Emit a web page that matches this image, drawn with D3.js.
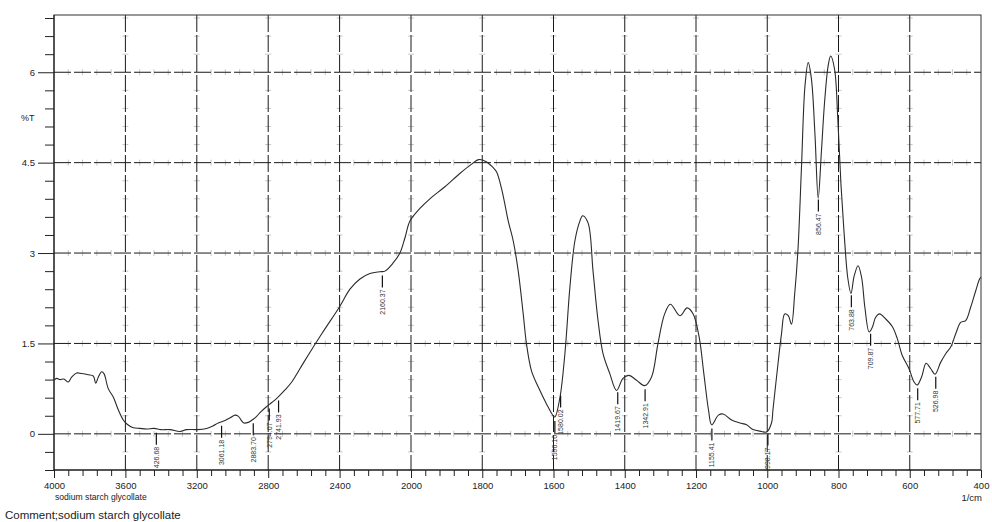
<!DOCTYPE html>
<html>
<head>
<meta charset="utf-8">
<script src="https://cdn.jsdelivr.net/npm/d3@7"></script>
<style>
body { margin: 0; background: #fff; }
svg { display: block; font-family: "Liberation Sans", Arial, sans-serif; }
.axis path { display: none; }
.axis line { stroke: #222; }
.axis text { fill: #222; font-size: 9.5px; }
</style>
</head>
<body>
<svg id="chart" width="992" height="522"></svg>
<script>
// spectrum (wavenumber 1/cm, %T)
var wavenumber = [4000, 3985, 3966, 3945, 3920, 3901, 3873, 3845, 3808, 3780, 3766, 3752, 3733, 3720, 3696, 3668, 3640, 3612, 3590, 3556, 3520, 3481, 3440, 3400, 3350, 3294, 3257, 3197, 3145, 3110, 3080, 3042, 3010, 2986, 2967, 2950, 2936, 2912, 2880, 2865, 2840, 2809, 2780, 2752, 2706, 2668, 2600, 2500, 2400, 2342, 2286, 2230, 2174, 2146, 2099, 2062, 2034, 2006, 1975, 1947, 1905, 1863, 1829, 1810, 1790, 1770, 1760, 1745, 1727, 1713, 1699, 1685, 1676, 1662, 1643, 1620, 1601, 1596, 1582, 1568, 1554, 1540, 1526, 1518, 1503, 1489, 1475, 1461, 1442, 1423, 1405, 1388, 1367, 1344, 1325, 1307, 1288, 1272, 1245, 1225, 1208, 1191, 1178, 1165, 1156, 1137, 1124, 1100, 1077, 1058, 1040, 1016, 1002, 988, 984, 974, 960, 951, 941, 932, 923, 914, 904, 894, 885, 876, 866, 857, 848, 839, 829, 822, 811, 802, 793, 784, 774, 765, 756, 745, 735, 726, 714, 705, 696, 685, 668, 649, 635, 621, 602, 588, 579, 567, 554, 541, 529, 513, 499, 485, 471, 457, 443, 429, 415, 404, 400];
var transmittance = [0.89, 0.92, 0.90, 0.91, 0.86, 0.94, 1.01, 1.00, 0.98, 0.96, 0.84, 0.94, 1.03, 1.00, 0.75, 0.61, 0.40, 0.23, 0.16, 0.10, 0.09, 0.08, 0.09, 0.07, 0.07, 0.04, 0.07, 0.07, 0.09, 0.13, 0.18, 0.22, 0.27, 0.31, 0.29, 0.22, 0.18, 0.19, 0.25, 0.29, 0.37, 0.45, 0.52, 0.59, 0.73, 0.86, 1.19, 1.66, 2.11, 2.40, 2.57, 2.66, 2.69, 2.70, 2.84, 3.00, 3.25, 3.53, 3.74, 3.90, 4.10, 4.32, 4.48, 4.55, 4.52, 4.42, 4.35, 4.05, 3.53, 3.20, 2.70, 1.99, 1.50, 1.05, 0.78, 0.50, 0.30, 0.28, 0.60, 1.33, 2.43, 3.20, 3.53, 3.62, 3.50, 2.70, 1.88, 1.33, 1.00, 0.72, 0.92, 0.97, 0.89, 0.80, 0.94, 1.49, 1.99, 2.15, 1.96, 2.09, 1.99, 1.60, 1.00, 0.40, 0.15, 0.31, 0.33, 0.23, 0.18, 0.15, 0.07, 0.04, 0.03, 0.18, 0.40, 0.94, 1.66, 1.99, 1.96, 1.82, 2.32, 3.03, 4.41, 5.78, 6.16, 5.89, 4.96, 3.91, 4.68, 5.51, 6.11, 6.27, 6.05, 5.23, 4.13, 3.31, 2.59, 2.33, 2.62, 2.79, 2.59, 2.10, 1.69, 1.77, 1.93, 1.99, 1.91, 1.78, 1.58, 1.30, 1.08, 0.86, 0.81, 0.94, 1.17, 1.08, 0.99, 1.19, 1.33, 1.44, 1.66, 1.85, 1.88, 2.10, 2.37, 2.57, 2.60];

// peak picks
var peakPositions = [3426.68, 3061.18, 2883.70, 2794.07, 2741.93, 2160.37, 1596.16, 1580.02, 1419.67, 1342.91, 1155.41, 998.17, 856.47, 763.88, 709.87, 577.71, 526.98];
var peakLabels = ["426.68", "3061.18", "2883.70", "2794.07", "2741.93", "2160.37", "1596.16", "1580.02", "1419.67", "1342.91", "1155.41", "998.17", "856.47", "763.88", "709.87", "577.71", "526.98"];

var xTicks = [4000, 3600, 3200, 2800, 2400, 2000, 1800, 1600, 1400, 1200, 1000, 800, 600, 400];
var yTicks = [0, 1.5, 3, 4.5, 6];

var svg = d3.select("#chart");
var plotLeft = 54, plotRight = 981, plotTop = 15, plotBottom = 470;

// the spectrometer squeezes 4000-2000 into half the scale of 2000-400
var x = d3.scaleLinear().domain([4000, 2000, 400]).range([plotLeft, 411, plotRight]);
var y = d3.scaleLinear().domain([-0.6, 6.95]).range([plotBottom, plotTop]);

// minor ticks: five steps between major ticks
var xMinor = [];
for (var i = 0; i < xTicks.length - 1; i++) {
    var step = (xTicks[i + 1] - xTicks[i]) / 5;
    for (var j = 1; j < 5; j++) xMinor.push(xTicks[i] + j * step);
}
var yMinor = d3.range(-0.6, 6.95, 0.3).map(function(v) { return Math.round(v * 10) / 10; })
    .filter(function(v) { return yTicks.indexOf(v) < 0; });

// faint minor marks along the grid
var marks = svg.append("g").attr("stroke", "#c8c8c8").attr("stroke-width", 1);
xTicks.slice(1, -1).forEach(function(t) {
    yMinor.forEach(function(v) {
        marks.append("line").attr("x1", x(t) - 3).attr("x2", x(t) + 3).attr("y1", y(v)).attr("y2", y(v));
    });
});
yTicks.forEach(function(v) {
    xMinor.forEach(function(t) {
        marks.append("line").attr("x1", x(t)).attr("x2", x(t)).attr("y1", y(v) - 3).attr("y2", y(v) + 3);
    });
});

// dashed grid
var grid = svg.append("g").attr("stroke", "#1a1a1a").attr("stroke-width", 1).attr("stroke-dasharray", "17,3");
xTicks.slice(1, -1).forEach(function(t) {
    grid.append("line").attr("x1", x(t)).attr("x2", x(t)).attr("y1", plotTop).attr("y2", plotBottom);
});
yTicks.forEach(function(v) {
    grid.append("line").attr("x1", plotLeft).attr("x2", plotRight).attr("y1", y(v)).attr("y2", y(v));
});

// frame
svg.append("rect").attr("x", plotLeft).attr("y", plotTop).attr("width", plotRight - plotLeft).attr("height", plotBottom - plotTop)
    .attr("fill", "none").attr("stroke", "#333").attr("stroke-width", 1);
svg.append("line").attr("x1", plotLeft).attr("x2", plotRight).attr("y1", plotBottom).attr("y2", plotBottom).attr("stroke", "#111");
svg.append("line").attr("x1", plotLeft).attr("x2", plotLeft).attr("y1", plotTop).attr("y2", plotBottom).attr("stroke", "#111");

// axes
svg.append("g").attr("class", "axis").attr("transform", "translate(0," + plotBottom + ")")
    .call(d3.axisBottom(x).tickValues(xTicks).tickSize(8).tickPadding(4).tickFormat(d3.format("d")));
svg.append("g").attr("class", "axis").attr("transform", "translate(0," + plotBottom + ")")
    .call(d3.axisBottom(x).tickValues(xMinor).tickSize(6).tickFormat(""));
svg.append("g").attr("class", "axis").attr("transform", "translate(" + plotLeft + ",0)")
    .call(d3.axisLeft(y).tickValues(yTicks).tickSize(16).tickPadding(3).tickFormat(function(d) { return String(d); }));
svg.append("g").attr("class", "axis").attr("transform", "translate(" + plotLeft + ",0)")
    .call(d3.axisLeft(y).tickValues(yMinor).tickSize(9).tickFormat(""));

// spectrum line
var pts = wavenumber.map(function(w, i) { return [w, transmittance[i]]; });
var line = d3.line()
    .x(function(d) { return x(d[0]); })
    .y(function(d) { return y(d[1]); })
    .curve(d3.curveCatmullRom.alpha(0.5));
svg.append("path").datum(pts).attr("d", line)
    .attr("fill", "none").attr("stroke", "#2b2b2b").attr("stroke-width", 1.1);

// value of the trace at a wavenumber
function valueAt(w) {
    for (var i = 0; i < wavenumber.length - 1; i++) {
        if (w <= wavenumber[i] && w >= wavenumber[i + 1]) {
            var f = (wavenumber[i] - w) / (wavenumber[i] - wavenumber[i + 1]);
            return transmittance[i] + f * (transmittance[i + 1] - transmittance[i]);
        }
    }
    return transmittance[transmittance.length - 1];
}

// peak labels: short stick under the trace, rotated number beneath it
var peaks = svg.append("g");
peakPositions.forEach(function(p, i) {
    var px = x(p);
    var y0 = y(valueAt(p)) + 4;
    peaks.append("line").attr("x1", px).attr("x2", px).attr("y1", y0).attr("y2", y0 + 12)
        .attr("stroke", "#111").attr("stroke-width", 1.2);
    peaks.append("text")
        .attr("transform", "translate(" + (px + 2.5) + "," + (y0 + 14) + ") rotate(-90)")
        .attr("text-anchor", "end")
        .attr("font-size", "7px")
        .attr("fill", "#333")
        .text(peakLabels[i]);
});

// texts
svg.append("text").attr("x", 21).attr("y", 121).attr("font-size", "9px").attr("fill", "#222").text("%T");
svg.append("text").attr("x", 55).attr("y", 500).attr("font-size", "8.6px").attr("fill", "#222").text("sodium starch glycollate");
svg.append("text").attr("x", 982).attr("y", 501).attr("text-anchor", "end").attr("font-size", "9.5px").attr("fill", "#222").text("1/cm");
svg.append("text").attr("x", 5).attr("y", 519).attr("font-size", "11.5px").attr("fill", "#222").text("Comment;sodium starch glycollate");
</script>
</body>
</html>
